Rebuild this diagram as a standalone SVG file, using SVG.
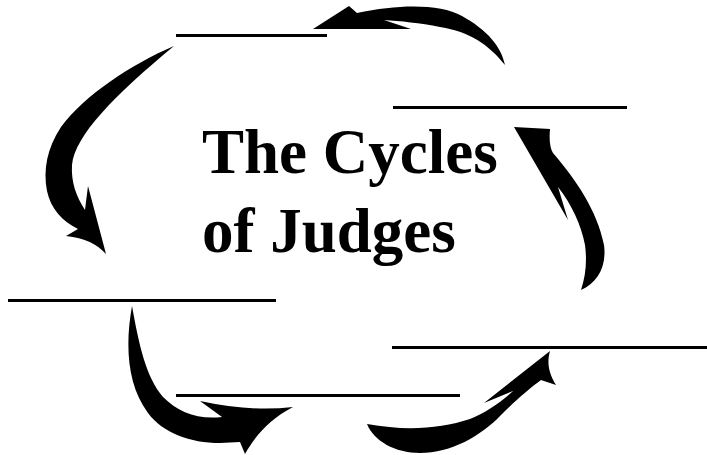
<svg xmlns="http://www.w3.org/2000/svg" width="707" height="455" viewBox="0 0 707 455">
<style>
.blank{fill:#000}
.title{font-family:"Liberation Serif","Times New Roman",serif;font-weight:bold;font-size:63px;fill:#000}
.arrow{fill:#000;stroke:none}
</style>
<rect width="707" height="455" fill="#fff"/>
<g id="title"><text class="title" x="202" y="173">The Cycles</text><text class="title" x="202" y="252">of Judges</text></g>
<g id="blank-top"><rect class="blank" x="176" y="34" width="151" height="3"/></g>
<g id="blank-right"><rect class="blank" x="393" y="106" width="234" height="3"/></g>
<g id="blank-left"><rect class="blank" x="8" y="299" width="268" height="3"/></g>
<g id="blank-bottom"><rect class="blank" x="176" y="394" width="284" height="3"/></g>
<g id="blank-bottom-right"><rect class="blank" x="392" y="346" width="315" height="3"/></g>
<g id="connectors">
<path class="arrow" d="M313,29 L349,6 L357,13 C400,4 440,4 462,16 C487,30 501,46 505,65 C488,44 470,32 440,27 C420,23 400,21 384,20 L411,29 Z"/>
<path class="arrow" d="M174,46 C130,65 85,95 61,127 C47,148 43,170 47,191 C51,209 62,221 78,229 L66,236 C85,238 97,244 106,254 L88,186 L85,210 C76,196 71,182 72,165 C75,135 115,95 174,46 Z"/>
<path class="arrow" d="M514,127 L550,129 C549,140 550,148 553,153 C576,180 597,210 604,245 C607,267 597,283 581,290 C586,275 587,260 585,245 C581,225 572,205 558,187 L568,220 Z"/>
<path class="arrow" d="M132,306 C125,345 127,385 148,413 C163,433 190,443 220,443 L240,442 L245,454 C255,436 270,419 293,407 Q250,412 200,401 L222,417 C198,420 178,412 163,397 C146,377 139,345 132,306 Z"/>
<path class="arrow" d="M367,424 C374,441 395,453 420,453 C451,453 481,436 501,415 C516,400 530,388 541,380 L556,385 C548,372 547,362 550,351 L484,403 L513,391 C500,403 485,413 470,419 C440,429 405,431 367,424 Z"/>
</g>
</svg>
